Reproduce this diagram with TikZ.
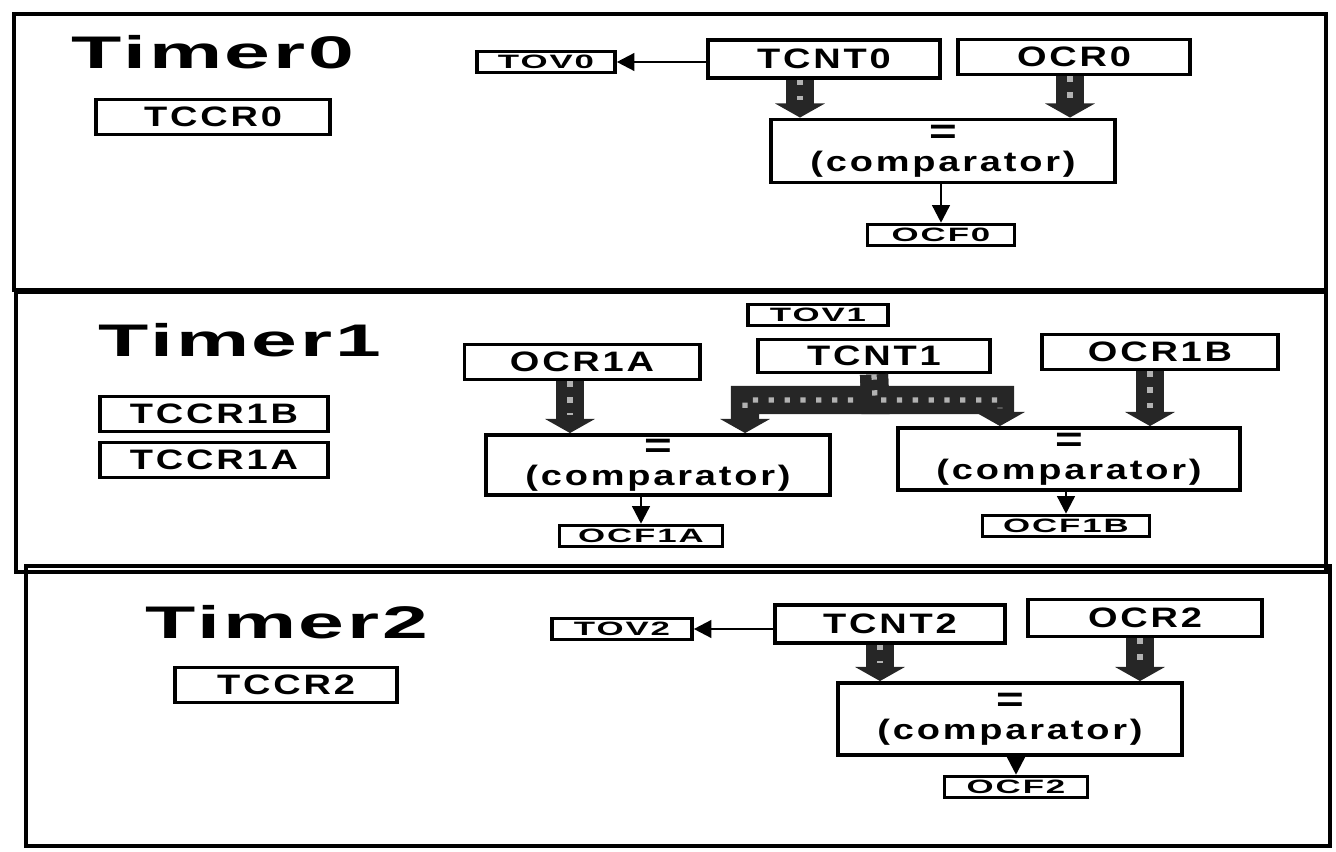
\documentclass[tikz,border=0pt]{standalone}
\usepackage{fontspec}
\setmainfont{Liberation Sans}
\newfontfamily\regfont{Liberation Sans}[FakeStretch=1.35,LetterSpace=10]
\newfontfamily\flagfont{Liberation Sans}[FakeStretch=1.8,LetterSpace=10]
\newfontfamily\titlefont{Liberation Sans}[FakeStretch=1.8,LetterSpace=6]
\usetikzlibrary{arrows.meta}

\begin{document}
\begin{tikzpicture}[x=0.01cm,y=-0.01cm,
    panel/.style={draw, line width=1.4pt},
    title/.style={inner sep=0pt, font=\titlefont\bfseries\fontsize{13}{15}\selectfont},
    reg/.style={draw, line width=1.1pt, inner sep=0pt, font=\regfont\bfseries\fontsize{8}{9}\selectfont},
    flag/.style={draw, line width=1pt, inner sep=0pt, minimum height=0.21cm, font=\flagfont\bfseries\fontsize{5.5}{6}\selectfont},
    cmp/.style={reg, align=center},
    sig/.style={line width=0.7pt, -{Triangle[length=5pt,width=5pt]}},
    busarrow/.style={draw=black!85, line width=8pt, line join=miter,
        -{Triangle[length=4pt,width=14pt]},
        postaction={draw=black!30, -, line width=1.5pt, dash pattern=on 1.5pt off 3pt, shorten >=5pt}}]
\useasboundingbox (0,0) rectangle (1336,852);

% Timer0
\draw[panel] (14,14) rectangle (1326,290);
\node[title] (title0) at (213,52) {Timer0};
\node[reg, minimum width=2.33cm, minimum height=0.35cm] (tccr0) at (213,117) {TCCR0};
\node[flag, minimum width=1.38cm] (tov0) at (546,62) {TOV0};
\node[reg, minimum width=2.32cm, minimum height=0.38cm] (tcnt0) at (824,59) {TCNT0};
\node[reg, minimum width=2.32cm, minimum height=0.35cm] (ocr0) at (1074,57) {OCR0};
\node[cmp, minimum width=3.43cm, minimum height=0.63cm] (cmp0) at (943,151) {{\fontsize{10}{10}\selectfont =}\\[-1pt](comparator)};
\node[flag, minimum width=1.47cm] (ocf0) at (941,235) {OCF0};
\coordinate (a0) at ([xshift=-0.24cm]tcnt0.south);
\coordinate (b0) at ([xshift=-0.04cm]ocr0.south);
\draw[sig] (tcnt0.west |- tov0) -- (tov0.east);
\draw[busarrow] (a0) -- (a0 |- cmp0.north);
\draw[busarrow] (b0) -- (b0 |- cmp0.north);
\draw[sig] (ocf0.north |- cmp0.south) -- (ocf0.north);

% Timer1
\draw[panel] (16,292) rectangle (1326,572);
\node[title] (title1) at (240,340) {Timer1};
\node[reg, minimum width=2.28cm, minimum height=0.35cm] (tccr1b) at (214,414) {TCCR1B};
\node[reg, minimum width=2.28cm, minimum height=0.35cm] (tccr1a) at (214,460) {TCCR1A};
\node[flag, minimum width=1.4cm] (tov1) at (818,315) {TOV1};
\node[reg, minimum width=2.35cm, minimum height=0.35cm] (ocr1a) at (582,362) {OCR1A};
\node[reg, minimum width=2.32cm, minimum height=0.33cm] (tcnt1) at (874,356) {TCNT1};
\node[reg, minimum width=2.36cm, minimum height=0.35cm] (ocr1b) at (1160,352) {OCR1B};
\node[cmp, minimum width=3.43cm, minimum height=0.6cm] (cmp1a) at (658,465) {{\fontsize{10}{10}\selectfont =}\\[-1pt](comparator)};
\node[cmp, minimum width=3.42cm, minimum height=0.62cm] (cmp1b) at (1069,459) {{\fontsize{10}{10}\selectfont =}\\[-1pt](comparator)};
\node[flag, minimum width=1.63cm] (ocf1a) at (641,536) {OCF1A};
\node[flag, minimum width=1.67cm] (ocf1b) at (1066,526) {OCF1B};
\coordinate (a1) at ([xshift=-0.12cm]ocr1a.south);
\coordinate (b1) at ([xshift=-0.1cm]ocr1b.south);
\coordinate (fork1) at (875,400);
\coordinate (l1) at ([xshift=0.87cm]cmp1a.north);
\coordinate (r1) at ([xshift=-0.69cm]cmp1b.north);
\draw[busarrow] (a1) -- (a1 |- cmp1a.north);
\draw[busarrow] (b1) -- (b1 |- cmp1b.north);
\draw[busarrow] (tcnt1.south) -- (fork1) -| (l1);
\draw[busarrow] (tcnt1.south) -- (fork1) -| (r1);
\draw[sig] (ocf1a.north |- cmp1a.south) -- (ocf1a.north);
\draw[sig] (ocf1b.north |- cmp1b.south) -- (ocf1b.north);

% Timer2
\draw[panel] (26,566) rectangle (1330,846);
\node[title] (title2) at (287,622) {Timer2};
\node[reg, minimum width=2.22cm, minimum height=0.35cm] (tccr2) at (286,685) {TCCR2};
\node[flag, minimum width=1.4cm] (tov2) at (622,629) {TOV2};
\node[reg, minimum width=2.3cm, minimum height=0.38cm] (tcnt2) at (890,624) {TCNT2};
\node[reg, minimum width=2.34cm, minimum height=0.37cm] (ocr2) at (1145,618) {OCR2};
\node[cmp, minimum width=3.44cm, minimum height=0.72cm] (cmp2) at (1010,719) {{\fontsize{10}{10}\selectfont =}\\[-1pt](comparator)};
\node[flag, minimum width=1.43cm] (ocf2) at (1016,787) {OCF2};
\coordinate (a2) at ([xshift=-0.1cm]tcnt2.south);
\coordinate (b2) at ([xshift=-0.05cm]ocr2.south);
\draw[sig] (tcnt2.west |- tov2) -- (tov2.east);
\draw[busarrow] (a2) -- (a2 |- cmp2.north);
\draw[busarrow] (b2) -- (b2 |- cmp2.north);
\draw[sig] (ocf2.north |- cmp2.south) -- (ocf2.north);
\end{tikzpicture}
\end{document}
